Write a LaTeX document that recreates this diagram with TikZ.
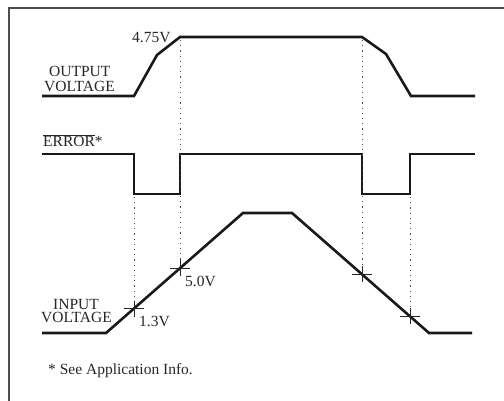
\documentclass[tikz,border=0pt]{standalone}
\usepackage{fontspec}
\setmainfont{Liberation Serif}
\begin{document}
\begin{tikzpicture}[x=1pt,y=-1pt,
  wave/.style={line width=2.6pt, line join=miter, black!90},
  guide/.style={black!70, line width=1pt, dash pattern=on 1.2pt off 4pt},
  frameline/.style={line width=1.4pt, black!70},
  crossmark/.style={line width=1pt, black!85},
  lbl/.style={inner sep=0pt, anchor=base west, text=black!85, font=\fontsize{15.5}{17}\selectfont}]
\useasboundingbox (0,0) rectangle (504,401);
% frame
\draw[frameline] (9,401) -- (9,8) -- (504,8);
% output voltage
\draw[wave] (42,96) -- (134,96) -- (157,55) -- (180,37) -- (362,37) -- (386,54) -- (411,96) -- (475,96);
% error
\draw[wave] (42,154) -- (134,154) -- (134,194) -- (180,194) -- (180,154) -- (362,154) -- (362,194) -- (410,194) -- (410,154) -- (475,154);
% input voltage
\draw[wave] (42,333) -- (106,333) -- (243,213) -- (292,213) -- (429,333) -- (472,333);
% guides
\draw[guide] (180,40) -- (180,268);
\draw[guide] (134,197) -- (134,308.5);
\draw[guide] (362,40) -- (362,274);
\draw[guide] (410,197) -- (410,316);
% crosses
\foreach \cx/\cy in {134/308.5, 180/268.2, 362/274.3, 410/316.4}{
  \draw[crossmark] (\cx-10,\cy) -- (\cx+10,\cy);
  \draw[crossmark] (\cx,\cy-8) -- (\cx,\cy+8);
}
% labels
\node[lbl] (v475) at (132,43) {4.75V};
\node[lbl] (out1) at (49,77) {OUTPUT};
\node[lbl] (out2) at (44,92) {VOLTAGE};
\node[lbl] (err) at (43,147) {$\overline{\mbox{ERROR}}$*};
\node[lbl] (in1) at (53,309) {INPUT};
\node[lbl] (in2) at (41,323) {VOLTAGE};
\node[lbl] (v13) at (139,326) {1.3V};
\node[lbl] (v50) at (185,287) {5.0V};
\node[lbl] (note) at (48,374) {* See Application Info.};
\end{tikzpicture}
\end{document}
